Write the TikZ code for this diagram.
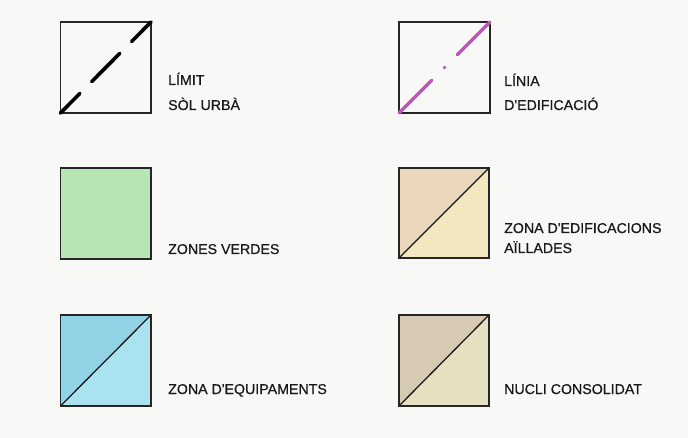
\documentclass[tikz,border=0pt]{standalone}
\usepackage{fontspec}
\usetikzlibrary{calc}
\setmainfont{Liberation Sans}[Ligatures=TeXOff, FakeBold=0.6]
\definecolor{bgc}{RGB}{248,248,247}
\definecolor{verd}{RGB}{184,230,178}
\definecolor{aillA}{RGB}{234,214,186}
\definecolor{aillB}{RGB}{242,232,192}
\definecolor{equipA}{RGB}{146,212,230}
\definecolor{equipB}{RGB}{170,226,240}
\definecolor{nucA}{RGB}{214,202,180}
\definecolor{nucB}{RGB}{230,224,192}
\definecolor{magen}{RGB}{194,82,192}
\tikzset{
  boxframe/.style={draw=black!85, line width=1.4pt},
  diag/.style={draw=black!90, line width=1.3pt},
  lbl/.style={anchor=base west, inner sep=0pt, font=\fontsize{14.2}{16}\selectfont, text=black!90},
  limitline/.style={line width=3.6pt, black, line cap=round},
  edifline/.style={line width=3.2pt, magen, line cap=round}
}
\begin{document}
\begin{tikzpicture}[x=1pt,y=-1pt]
\fill[bgc] (0,0) rectangle (688,438);
\useasboundingbox (0,0) rectangle (688,438);

% Box 1: LIMIT SOL URBA
\coordinate (a1) at (60.5,113);
\coordinate (b1) at (151,22);
\draw[boxframe] (a1) rectangle (b1);
\draw[limitline] (a1) -- ($(a1)!0.215!(b1)$);
\draw[limitline] ($(a1)!0.345!(b1)$) -- ($(a1)!0.655!(b1)$);
\draw[limitline] ($(a1)!0.785!(b1)$) -- (b1);
\node[lbl] (t1a) at (168,85) {LÍMIT};
\node[lbl] (t1b) at (168,110) {SÒL URBÀ};

% Box 2: LINIA D'EDIFICACIO
\coordinate (a2) at (399,113);
\coordinate (b2) at (490,22);
\draw[boxframe] (a2) rectangle (b2);
\draw[edifline] (a2) -- ($(a2)!0.36!(b2)$);
\fill[magen] ($(a2)!0.5!(b2)$) circle (1.9);
\draw[edifline] ($(a2)!0.64!(b2)$) -- (b2);
\node[lbl] (t2a) at (504,86) {LÍNIA};
\node[lbl] (t2b) at (504,110) {D'EDIFICACIÓ};

% Box 3: ZONES VERDES
\coordinate (a3) at (60.5,259);
\coordinate (b3) at (151,168);
\fill[verd] (a3) rectangle (b3);
\draw[boxframe] (a3) rectangle (b3);
\node[lbl] (t3) at (168,254) {ZONES VERDES};

% Box 4: ZONA D'EDIFICACIONS AILLADES
\coordinate (a4) at (399,258);
\coordinate (b4) at (489,168);
\fill[aillA] (a4) -- (a4 |- b4) -- (b4) -- cycle;
\fill[aillB] (a4) -- (b4) -- (b4 |- a4) -- cycle;
\draw[diag] (a4) -- (b4);
\draw[boxframe] (a4) rectangle (b4);
\node[lbl] (t4a) at (504,233) {ZONA D'EDIFICACIONS};
\node[lbl] (t4b) at (504,253) {AÏLLADES};

% Box 5: ZONA D'EQUIPAMENTS
\coordinate (a5) at (60.5,406);
\coordinate (b5) at (151,315);
\fill[equipA] (a5) -- (a5 |- b5) -- (b5) -- cycle;
\fill[equipB] (a5) -- (b5) -- (b5 |- a5) -- cycle;
\draw[diag] (a5) -- (b5);
\draw[boxframe] (a5) rectangle (b5);
\node[lbl] (t5) at (168,394) {ZONA D'EQUIPAMENTS};

% Box 6: NUCLI CONSOLIDAT
\coordinate (a6) at (399,406);
\coordinate (b6) at (489,315);
\fill[nucA] (a6) -- (a6 |- b6) -- (b6) -- cycle;
\fill[nucB] (a6) -- (b6) -- (b6 |- a6) -- cycle;
\draw[diag] (a6) -- (b6);
\draw[boxframe] (a6) rectangle (b6);
\node[lbl] (t6) at (504,394) {NUCLI CONSOLIDAT};
\end{tikzpicture}
\end{document}
